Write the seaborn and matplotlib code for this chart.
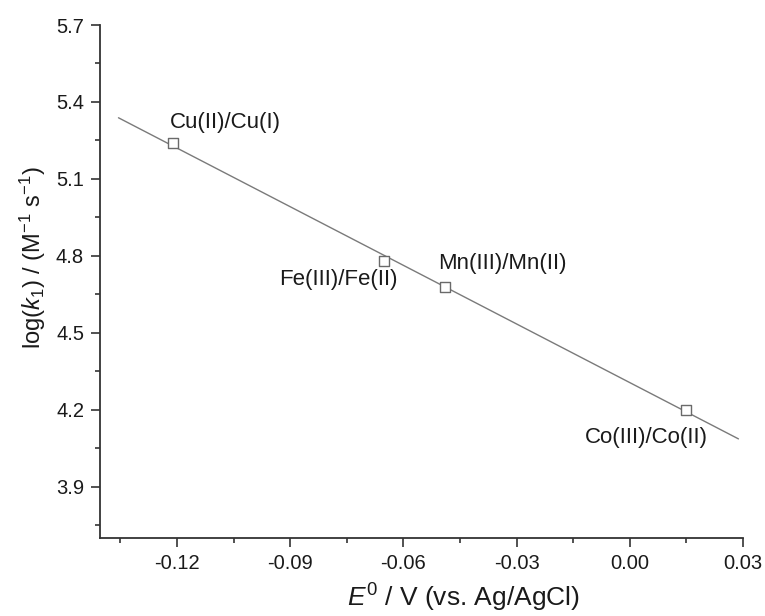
import numpy as np
import pandas as pd
import matplotlib
matplotlib.use("Agg")
import matplotlib.pyplot as plt
from matplotlib.ticker import MultipleLocator, FormatStrFormatter
import seaborn as sns

# Redox couples, formal potentials and rate constants
couples = ["Cu(II)/Cu(I)", "Fe(III)/Fe(II)", "Mn(III)/Mn(II)", "Co(III)/Co(II)"]
e0 = [-0.121, -0.065, -0.049, 0.015]
log_k1 = [5.24, 4.78, 4.68, 4.20]

x_ticks = [-0.12, -0.09, -0.06, -0.03, 0.00, 0.03]
y_ticks = [3.9, 4.2, 4.5, 4.8, 5.1, 5.4, 5.7]

df = pd.DataFrame({"couple": couples, "E0": e0, "logk1": log_k1})

sns.set_theme(style="ticks")
plt.rcParams["font.family"] = ["Liberation Sans", "DejaVu Sans"]
plt.rcParams["mathtext.fontset"] = "custom"
plt.rcParams["mathtext.rm"] = "Liberation Sans"
plt.rcParams["mathtext.it"] = "Liberation Sans:italic"
plt.rcParams["mathtext.bf"] = "Liberation Sans:bold"

fig = plt.figure(figsize=(7.65, 6.16), dpi=100)
ax = fig.add_axes([0.1307, 0.1266, 0.9712 - 0.1307, 0.9594 - 0.1266])

# Least-squares line through the four couples
slope, intercept = np.polyfit(df["E0"], df["logk1"], 1)
fit_x = np.array([-0.1355, 0.0288])
sns.lineplot(x=fit_x, y=slope * fit_x + intercept, ax=ax,
             color="#7a7a7a", linewidth=1.0, zorder=2)

sns.scatterplot(data=df, x="E0", y="logk1", ax=ax, marker="s", s=52,
                facecolor="white", edgecolor="#6a6a6a", linewidth=1.0,
                zorder=3)

# Couple labels
label_pos = {
    "Cu(II)/Cu(I)": (-0.1219, 5.318, "left"),
    "Fe(III)/Fe(II)": (-0.0614, 4.706, "right"),
    "Mn(III)/Mn(II)": (-0.0508, 4.772, "left"),
    "Co(III)/Co(II)": (-0.0119, 4.090, "left"),
}
for name in couples:
    lx, ly, ha = label_pos[name]
    ax.text(lx, ly, name, ha=ha, va="center", fontsize=16, color="#1a1a1a")

ax.set_xlim(-0.1404, 0.03)
ax.set_ylim(3.7, 5.7)
ax.set_xticks(x_ticks)
ax.set_yticks(y_ticks)
ax.xaxis.set_major_formatter(FormatStrFormatter("%.2f"))
ax.yaxis.set_major_formatter(FormatStrFormatter("%.1f"))
ax.xaxis.set_minor_locator(MultipleLocator(0.015))
ax.yaxis.set_minor_locator(MultipleLocator(0.15))

ax.tick_params(which="major", direction="out", length=6.5, width=1.2,
               colors="#333333", labelsize=14.5, labelcolor="#1a1a1a", pad=5)
ax.tick_params(which="minor", direction="out", length=3.8, width=1.2,
               colors="#333333")

for side in ["top", "right"]:
    ax.spines[side].set_visible(False)
for side in ["left", "bottom"]:
    ax.spines[side].set_linewidth(1.3)
    ax.spines[side].set_color("#333333")

ax.set_xlabel(r"$\mathit{E}^{0}$ / V (vs. Ag/AgCl)", fontsize=19,
              color="#1a1a1a", labelpad=6, x=0.565)
ax.set_ylabel(r"log($\mathit{k}_{1}$) / (M$^{-1}$ s$^{-1}$)", fontsize=17,
              color="#1a1a1a", labelpad=6, y=0.546)

fig.savefig("out.png", dpi=100, facecolor="white")
